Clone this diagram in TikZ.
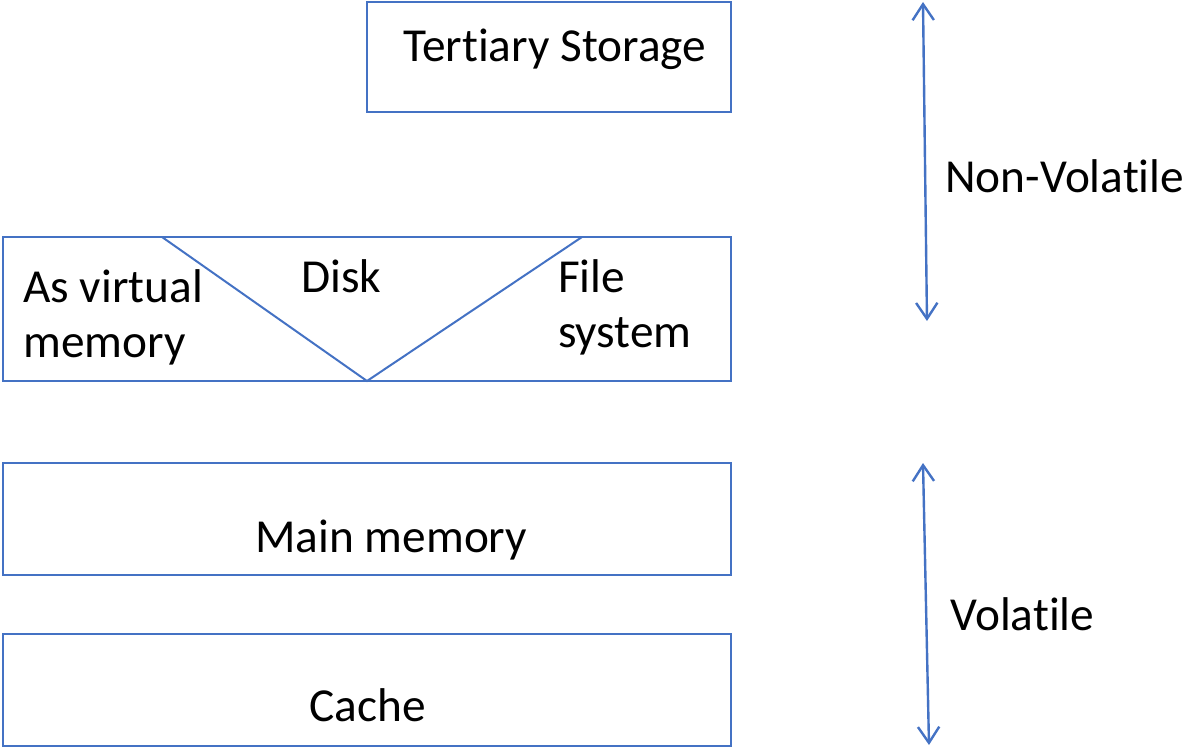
\documentclass[tikz,border=0pt]{standalone}
\usepackage{fontspec}
\setmainfont{Carlito}[Ligatures=CommonOff]
\usetikzlibrary{arrows.meta}
\definecolor{lineblue}{HTML}{4472C4}

\begin{document}
\begin{tikzpicture}[x=0.75pt, y=-0.75pt,
		box/.style={draw=lineblue, line width=1.2pt, inner sep=0pt, outer sep=0pt, anchor=north west},
		label/.style={anchor=base west, inner sep=0pt, align=left, font=\fontsize{35.5}{41}\selectfont},
		spanarrow/.style={draw=lineblue, line width=1.8pt, {Straight Barb[length=12pt, width=16pt]}-{Straight Barb[length=12pt, width=16pt]}}]
		\useasboundingbox (0, 0) rectangle (1183, 749);
		% the levels of storage
		\node[box, minimum width=273pt, minimum height=82.5pt] (tertiary) at (367, 2) {};
		\node[box, minimum width=546pt, minimum height=108pt] (disk) at (3, 237) {};
		\node[box, minimum width=546pt, minimum height=84pt] (main) at (3, 463) {};
		\node[box, minimum width=546pt, minimum height=84pt] (cache) at (3, 634) {};
		\coordinate (vleft) at (162, 237);
		\coordinate (vbottom) at (367, 381);
		\coordinate (vright) at (582, 237);
		\draw[lineblue, line width=1.5pt] (vleft) -- (vbottom) -- (vright);
		\node[label] (tertiarytext) at (403, 62) {Tertiary Storage};
		\node[label] (disktext) at (301, 292) {Disk};
		\node[label] (virtualtext) at (23, 357) {As virtual\\memory};
		\node[label] (filetext) at (558, 347) {File\\system};
		\node[label] (maintext) at (255, 552) {Main memory};
		\node[label] (cachetext) at (309, 721) {Cache};
		% volatile or not
		\coordinate (nvtop) at (923, 2);
		\coordinate (nvbottom) at (927, 321);
		\coordinate (vtop) at (923, 463);
		\coordinate (vbot) at (929, 745);
		\draw[spanarrow] (nvtop) -- (nvbottom);
		\draw[spanarrow] (vtop) -- (vbot);
		\node[label] (nonvolatile) at (945, 192) {Non-Volatile};
		\node[label] (volatile) at (950, 630) {Volatile};
	\end{tikzpicture}
\end{document}
